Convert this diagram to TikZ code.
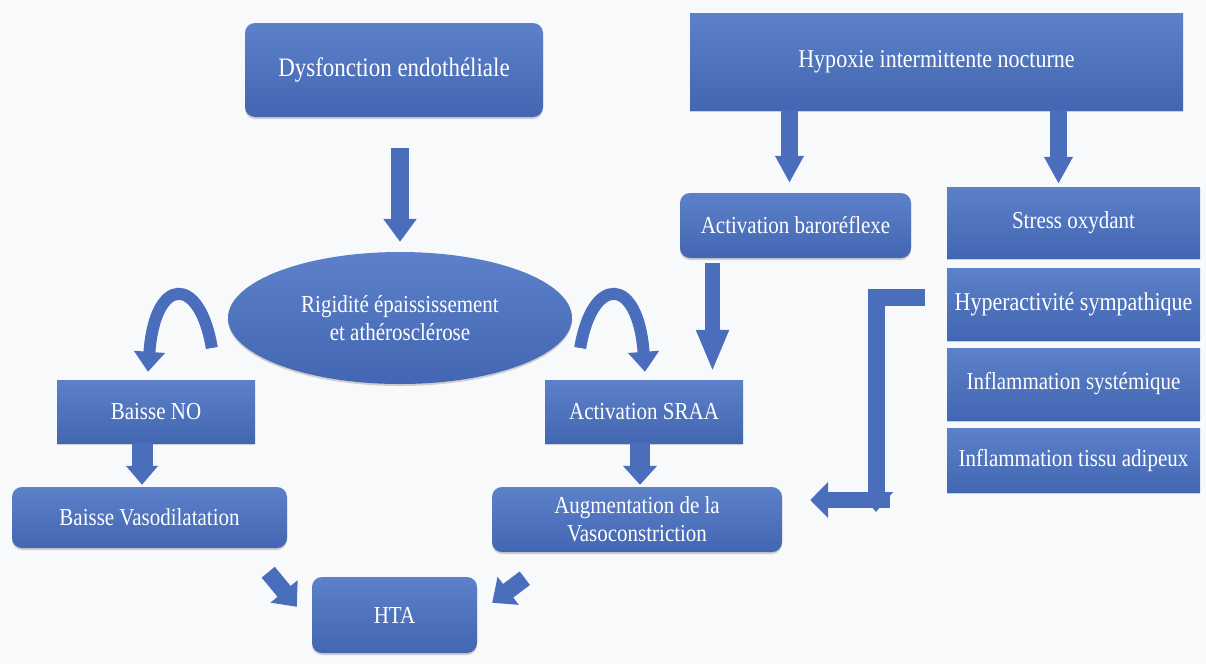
\documentclass[tikz,border=0pt]{standalone}
\usepackage{fontspec}
\setmainfont[FakeStretch=0.86]{Liberation Serif}
\usepackage{xcolor}
\usepackage{tikz}
\usetikzlibrary{shapes.geometric,arrows.meta,positioning,calc,shadows}

\definecolor{boxtop}{RGB}{92,128,201}
\definecolor{boxbot}{RGB}{66,102,177}
\definecolor{arrowblue}{RGB}{74,110,187}
\definecolor{paper}{RGB}{248,249,250}

\begin{document}
\begin{tikzpicture}[x=1pt, y=-1pt,
    box/.style={rectangle, top color=boxtop, bottom color=boxbot, text=white, align=center,
        inner sep=2pt, font=\fontsize{24.4}{28}\selectfont,
        drop shadow={opacity=0.35, shadow xshift=0pt, shadow yshift=-2pt}},
    rbox/.style={box, rounded corners=10pt},
    fleche/.style n args={3}{draw=arrowblue, line width=#1, -{Triangle[width=#2, length=#3]}}]

    \fill[paper] (0,0) rectangle (1206,664);
    \useasboundingbox (0,0) rectangle (1206,664);

    \node[rbox, minimum width=298pt, minimum height=94pt, font=\fontsize{26.7}{28}\selectfont] (dys) at (394,70) {Dysfonction endothéliale};
    \node[box, minimum width=493pt, minimum height=97pt, font=\fontsize{25.6}{28}\selectfont] (hyp) at (936.5,61.5) {Hypoxie intermittente nocturne};
    \node[rbox, minimum width=231pt, minimum height=65pt] (baro) at (795.5,225.5) {Activation baroréflexe};
    \node[box, minimum width=253pt, minimum height=71pt] (stress) at (1073.5,222.5) {Stress oxydant};
    \node[box, minimum width=253pt, minimum height=72pt, font=\fontsize{25.6}{28}\selectfont] (hyper) at (1073.5,304) {Hyperactivité sympathique};
    \node[box, minimum width=253pt, minimum height=72pt] (inflsys) at (1073.5,384) {Inflammation systémique};
    \node[box, minimum width=253pt, minimum height=64pt] (infltis) at (1073.5,460) {Inflammation tissu adipeux};
    \node[box, ellipse, inner sep=0pt, minimum width=344pt, minimum height=132pt] (rig) at (400,318) {Rigidité épaississement\\et athérosclérose};
    \node[box, minimum width=198pt, minimum height=63pt] (no) at (156,411.5) {Baisse NO};
    \node[rbox, minimum width=275pt, minimum height=61pt] (vasodil) at (149.5,517.5) {Baisse Vasodilatation};
    \node[box, minimum width=198pt, minimum height=63pt] (sraa) at (644,411.5) {Activation SRAA};
    \node[rbox, minimum width=290pt, minimum height=65pt] (vasocon) at (637,519.5) {Augmentation de la\\Vasoconstriction};
    \node[rbox, minimum width=165pt, minimum height=76pt] (hta) at (394.5,615) {HTA};

    \draw[fleche={18pt}{32pt}{23pt}, shorten <=31pt, shorten >=10pt] (dys.south -| rig.north) -- (rig.north);
    \draw[fleche={17pt}{27pt}{27pt}, shorten >=10pt] ([xshift=-6pt]baro.north |- hyp.south) -- ([xshift=-6pt]baro.north);
    \draw[fleche={17pt}{27pt}{27pt}, shorten >=3pt] ([xshift=-15pt]stress.north |- hyp.south) -- ([xshift=-15pt]stress.north);
    \draw[fleche={15pt}{30pt}{42pt}, shorten <=5pt, shorten >=8pt] ([xshift=-83pt]baro.south) -- ([xshift=-83pt]baro.south |- sraa.north);
    \draw[fleche={21pt}{31pt}{19pt}, shorten >=2pt] ([xshift=-14pt]no.south) -- ([xshift=-14pt]no.south |- vasodil.north);
    \draw[fleche={20pt}{33pt}{19pt}, shorten >=2pt] ([xshift=-4pt]sraa.south) -- ([xshift=-4pt]sraa.south |- vasocon.north);
    \draw[fleche={17pt}{34pt}{20pt}] ([shift={(-19,24)}]vasodil.south east) -- ([shift={(-15,30)}]hta.north west);
    \draw[fleche={17pt}{34pt}{20pt}] ([shift={(33,26)}]vasocon.south west) -- ([shift={(15,26)}]hta.north east);

    % fleches courbes autour de l'ellipse
    \draw[fleche={12pt}{30pt}{20pt}] ([shift={(-16,30)}]rig.west) .. controls +(-12,-73) and +(7,-97) .. ([shift={(-8,-8)}]no.north);
    \draw[fleche={12pt}{30pt}{20pt}] ([shift={(8,30)}]rig.east) .. controls +(12,-73) and +(-7,-97) .. ([shift={(1,-8)}]sraa.north);

    % fleche coudee
    \coordinate (elbow) at (876,297);
    \coordinate (corner) at (876,500);
    \draw[fleche={16pt}{35pt}{18pt}, shorten >=28pt] ([xshift=14pt]corner) -- (vasocon.east |- corner);
    \draw[fleche={17pt}{33pt}{20pt}, line join=miter] ([xshift=-22pt]hyper.west |- elbow) -- (elbow) -- ([yshift=-12pt]corner);
\end{tikzpicture}
\end{document}
